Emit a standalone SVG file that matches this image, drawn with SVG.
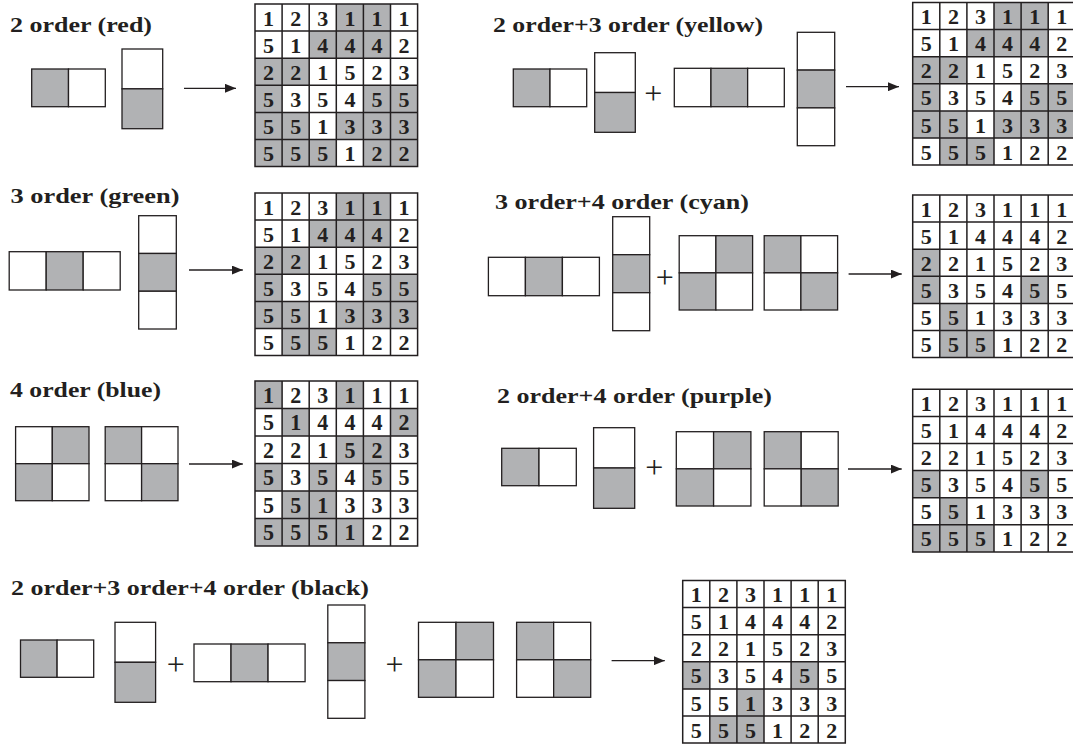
<svg xmlns="http://www.w3.org/2000/svg" xmlns:xlink="http://www.w3.org/1999/xlink" width="1073" height="745" viewBox="0 0 1073 745">
<style>
.lbl{font-family:"Liberation Serif","DejaVu Serif",serif;font-weight:700;font-size:22px;fill:#231f20}
.n{font-family:"Liberation Serif","DejaVu Serif",serif;font-weight:700;font-size:22px;fill:#231f20;text-anchor:middle}
.plus{font-family:"Liberation Serif","DejaVu Serif",serif;font-weight:400;font-size:32px;fill:#231f20;text-anchor:middle}
.g{fill:#b1b2b4;stroke:#231f20;stroke-width:1.3}
.w{fill:#fff;stroke:#231f20;stroke-width:1.3}
.gc{fill:#b1b2b4}
.arr{stroke:#231f20;stroke-width:1.3;fill:none;marker-end:url(#ah)}
</style>
<defs>
<marker id="ah" markerUnits="userSpaceOnUse" markerWidth="11" markerHeight="9" refX="11" refY="4.5" orient="auto"><path d="M0,0 L11,4.5 L0,9 Z" fill="#231f20"/></marker>
<path id="gl" d="M0 0H162.6V162.6H0Z M27.1 0V162.6 M54.2 0V162.6 M81.3 0V162.6 M108.4 0V162.6 M135.5 0V162.6 M0 27.1H162.6 M0 54.2H162.6 M0 81.3H162.6 M0 108.4H162.6 M0 135.5H162.6" fill="none" stroke="#231f20" stroke-width="1.5"/>
</defs>
<rect width="1073" height="745" fill="#fff"/>

<!-- labels -->
<g id="labels">
<text id="lbl-red" class="lbl" x="10" y="32" textLength="142" lengthAdjust="spacingAndGlyphs">2 order (red)</text>
<text id="lbl-yellow" class="lbl" x="493" y="32.3" textLength="270" lengthAdjust="spacingAndGlyphs">2 order+3 order (yellow)</text>
<text id="lbl-green" class="lbl" x="10.5" y="203" textLength="169" lengthAdjust="spacingAndGlyphs">3 order (green)</text>
<text id="lbl-cyan" class="lbl" x="495" y="209" textLength="254" lengthAdjust="spacingAndGlyphs">3 order+4 order (cyan)</text>
<text id="lbl-blue" class="lbl" x="10" y="397" textLength="151" lengthAdjust="spacingAndGlyphs">4 order (blue)</text>
<text id="lbl-purple" class="lbl" x="497" y="403" textLength="275" lengthAdjust="spacingAndGlyphs">2 order+4 order (purple)</text>
<text id="lbl-black" class="lbl" x="11" y="595" textLength="358" lengthAdjust="spacingAndGlyphs">2 order+3 order+4 order (black)</text>
</g>

<!-- red row shapes -->
<g id="red-h2"><rect class="g" x="31.7" y="69" width="36.8" height="37.7"/><rect class="w" x="68.5" y="69" width="36.8" height="37.7"/></g>
<g id="red-v2"><rect class="w" x="122" y="49" width="40.7" height="39.85"/><rect class="g" x="122" y="88.85" width="40.7" height="39.85"/></g>

<!-- yellow row shapes -->
<g id="yellow-h2"><rect class="g" x="513.3" y="69" width="36.7" height="37.7"/><rect class="w" x="550" y="69" width="36.7" height="37.7"/></g>
<g id="yellow-v2"><rect class="w" x="594.7" y="52.7" width="40.6" height="39.8"/><rect class="g" x="594.7" y="92.5" width="40.6" height="39.8"/></g>
<text id="yellow-plus" class="plus" x="653.3" y="104.2">+</text>
<g id="yellow-h3"><rect class="w" x="674.3" y="68.3" width="36.67" height="38.4"/><rect class="g" x="710.97" y="68.3" width="36.67" height="38.4"/><rect class="w" x="747.64" y="68.3" width="36.67" height="38.4"/></g>
<g id="yellow-v3"><rect class="w" x="797.3" y="32.3" width="37.4" height="37.8"/><rect class="g" x="797.3" y="70.1" width="37.4" height="37.8"/><rect class="w" x="797.3" y="107.9" width="37.4" height="37.8"/></g>

<!-- green row shapes -->
<g id="green-h3"><rect class="w" x="9.2" y="251.7" width="37" height="38.3"/><rect class="g" x="46.2" y="251.7" width="37" height="38.3"/><rect class="w" x="83.2" y="251.7" width="37" height="38.3"/></g>
<g id="green-v3"><rect class="w" x="138.7" y="215.7" width="37.6" height="37.77"/><rect class="g" x="138.7" y="253.47" width="37.6" height="37.77"/><rect class="w" x="138.7" y="291.24" width="37.6" height="37.77"/></g>

<!-- cyan row shapes -->
<g id="cyan-h3"><rect class="w" x="488.4" y="257.3" width="37" height="38.4"/><rect class="g" x="525.4" y="257.3" width="37" height="38.4"/><rect class="w" x="562.4" y="257.3" width="37" height="38.4"/></g>
<g id="cyan-v3"><rect class="w" x="612.7" y="216.7" width="37" height="38"/><rect class="g" x="612.7" y="254.7" width="37" height="38"/><rect class="w" x="612.7" y="292.7" width="37" height="38"/></g>
<text id="cyan-plus" class="plus" x="664.7" y="287.6">+</text>
<g id="cyan-sq-a"><rect class="w" x="679.2" y="235.7" width="36.7" height="37.15"/><rect class="g" x="715.9" y="235.7" width="36.7" height="37.15"/><rect class="g" x="679.2" y="272.85" width="36.7" height="37.15"/><rect class="w" x="715.9" y="272.85" width="36.7" height="37.15"/></g>
<g id="cyan-sq-b"><rect class="g" x="764.2" y="235.7" width="36.7" height="37.15"/><rect class="w" x="800.9" y="235.7" width="36.7" height="37.15"/><rect class="w" x="764.2" y="272.85" width="36.7" height="37.15"/><rect class="g" x="800.9" y="272.85" width="36.7" height="37.15"/></g>

<!-- blue row shapes -->
<g id="blue-sq-a"><rect class="w" x="15.6" y="426.7" width="36.7" height="37"/><rect class="g" x="52.3" y="426.7" width="36.7" height="37"/><rect class="g" x="15.6" y="463.7" width="36.7" height="37"/><rect class="w" x="52.3" y="463.7" width="36.7" height="37"/></g>
<g id="blue-sq-b"><rect class="g" x="105.2" y="426.7" width="36.4" height="37"/><rect class="w" x="141.6" y="426.7" width="36.4" height="37"/><rect class="w" x="105.2" y="463.7" width="36.4" height="37"/><rect class="g" x="141.6" y="463.7" width="36.4" height="37"/></g>

<!-- purple row shapes -->
<g id="purple-h2"><rect class="g" x="501.7" y="448.3" width="37.3" height="37.4"/><rect class="w" x="539" y="448.3" width="37.3" height="37.4"/></g>
<g id="purple-v2"><rect class="w" x="593.6" y="427.7" width="41.1" height="40.3"/><rect class="g" x="593.6" y="468" width="41.1" height="40.3"/></g>
<text id="purple-plus" class="plus" x="654.3" y="478.2">+</text>
<g id="purple-sq-a"><rect class="w" x="676.3" y="431.7" width="37.3" height="37.15"/><rect class="g" x="713.6" y="431.7" width="37.3" height="37.15"/><rect class="g" x="676.3" y="468.85" width="37.3" height="37.15"/><rect class="w" x="713.6" y="468.85" width="37.3" height="37.15"/></g>
<g id="purple-sq-b"><rect class="g" x="764.2" y="431.7" width="37" height="37.15"/><rect class="w" x="801.2" y="431.7" width="37" height="37.15"/><rect class="w" x="764.2" y="468.85" width="37" height="37.15"/><rect class="g" x="801.2" y="468.85" width="37" height="37.15"/></g>

<!-- black row shapes -->
<g id="black-h2"><rect class="g" x="20.5" y="640" width="36.6" height="37.3"/><rect class="w" x="57.1" y="640" width="36.6" height="37.3"/></g>
<g id="black-v2"><rect class="w" x="115" y="622.3" width="40.6" height="40"/><rect class="g" x="115" y="662.3" width="40.6" height="40"/></g>
<text id="black-plus1" class="plus" x="175.7" y="675.2">+</text>
<g id="black-h3"><rect class="w" x="194" y="644" width="37.03" height="37.7"/><rect class="g" x="231.03" y="644" width="37.03" height="37.7"/><rect class="w" x="268.06" y="644" width="37.03" height="37.7"/></g>
<g id="black-v3"><rect class="w" x="327.8" y="605" width="37.1" height="37.77"/><rect class="g" x="327.8" y="642.77" width="37.1" height="37.77"/><rect class="w" x="327.8" y="680.54" width="37.1" height="37.77"/></g>
<text id="black-plus2" class="plus" x="394.5" y="675.2">+</text>
<g id="black-sq-a"><rect class="w" x="418.5" y="622.3" width="37.5" height="37.5"/><rect class="g" x="456" y="622.3" width="37.5" height="37.5"/><rect class="g" x="418.5" y="659.8" width="37.5" height="37.5"/><rect class="w" x="456" y="659.8" width="37.5" height="37.5"/></g>
<g id="black-sq-b"><rect class="g" x="516.6" y="622.3" width="37.05" height="37.5"/><rect class="w" x="553.65" y="622.3" width="37.05" height="37.5"/><rect class="w" x="516.6" y="659.8" width="37.05" height="37.5"/><rect class="g" x="553.65" y="659.8" width="37.05" height="37.5"/></g>

<!-- grids -->
<g id="grid-red" transform="translate(255,4)">
<rect class="gc" x="81.3" y="0" width="54.2" height="27.1"/><rect class="gc" x="54.2" y="27.1" width="81.3" height="27.1"/><rect class="gc" x="0" y="54.2" width="54.2" height="27.1"/><rect class="gc" x="0" y="81.3" width="27.1" height="27.1"/><rect class="gc" x="108.4" y="81.3" width="54.2" height="27.1"/><rect class="gc" x="0" y="108.4" width="54.2" height="27.1"/><rect class="gc" x="81.3" y="108.4" width="81.3" height="27.1"/><rect class="gc" x="0" y="135.5" width="81.3" height="27.1"/><rect class="gc" x="108.4" y="135.5" width="54.2" height="27.1"/>
<use href="#gl" xlink:href="#gl"/>
<g class="n">
<text x="13.6" y="21.6">1</text><text x="40.7" y="21.6">2</text><text x="67.8" y="21.6">3</text><text x="94.9" y="21.6">1</text><text x="122" y="21.6">1</text><text x="149.1" y="21.6">1</text>
<text x="13.6" y="48.7">5</text><text x="40.7" y="48.7">1</text><text x="67.8" y="48.7">4</text><text x="94.9" y="48.7">4</text><text x="122" y="48.7">4</text><text x="149.1" y="48.7">2</text>
<text x="13.6" y="75.8">2</text><text x="40.7" y="75.8">2</text><text x="67.8" y="75.8">1</text><text x="94.9" y="75.8">5</text><text x="122" y="75.8">2</text><text x="149.1" y="75.8">3</text>
<text x="13.6" y="102.9">5</text><text x="40.7" y="102.9">3</text><text x="67.8" y="102.9">5</text><text x="94.9" y="102.9">4</text><text x="122" y="102.9">5</text><text x="149.1" y="102.9">5</text>
<text x="13.6" y="130">5</text><text x="40.7" y="130">5</text><text x="67.8" y="130">1</text><text x="94.9" y="130">3</text><text x="122" y="130">3</text><text x="149.1" y="130">3</text>
<text x="13.6" y="157.1">5</text><text x="40.7" y="157.1">5</text><text x="67.8" y="157.1">5</text><text x="94.9" y="157.1">1</text><text x="122" y="157.1">2</text><text x="149.1" y="157.1">2</text>
</g>
</g>

<g id="grid-yellow" transform="translate(912.7,2.5)">
<rect class="gc" x="81.3" y="0" width="54.2" height="27.1"/><rect class="gc" x="54.2" y="27.1" width="81.3" height="27.1"/><rect class="gc" x="0" y="54.2" width="54.2" height="27.1"/><rect class="gc" x="0" y="81.3" width="27.1" height="27.1"/><rect class="gc" x="108.4" y="81.3" width="54.2" height="27.1"/><rect class="gc" x="0" y="108.4" width="54.2" height="27.1"/><rect class="gc" x="81.3" y="108.4" width="81.3" height="27.1"/><rect class="gc" x="27.1" y="135.5" width="54.2" height="27.1"/>
<use href="#gl" xlink:href="#gl"/>
<g class="n">
<text x="13.6" y="21.6">1</text><text x="40.7" y="21.6">2</text><text x="67.8" y="21.6">3</text><text x="94.9" y="21.6">1</text><text x="122" y="21.6">1</text><text x="149.1" y="21.6">1</text>
<text x="13.6" y="48.7">5</text><text x="40.7" y="48.7">1</text><text x="67.8" y="48.7">4</text><text x="94.9" y="48.7">4</text><text x="122" y="48.7">4</text><text x="149.1" y="48.7">2</text>
<text x="13.6" y="75.8">2</text><text x="40.7" y="75.8">2</text><text x="67.8" y="75.8">1</text><text x="94.9" y="75.8">5</text><text x="122" y="75.8">2</text><text x="149.1" y="75.8">3</text>
<text x="13.6" y="102.9">5</text><text x="40.7" y="102.9">3</text><text x="67.8" y="102.9">5</text><text x="94.9" y="102.9">4</text><text x="122" y="102.9">5</text><text x="149.1" y="102.9">5</text>
<text x="13.6" y="130">5</text><text x="40.7" y="130">5</text><text x="67.8" y="130">1</text><text x="94.9" y="130">3</text><text x="122" y="130">3</text><text x="149.1" y="130">3</text>
<text x="13.6" y="157.1">5</text><text x="40.7" y="157.1">5</text><text x="67.8" y="157.1">5</text><text x="94.9" y="157.1">1</text><text x="122" y="157.1">2</text><text x="149.1" y="157.1">2</text>
</g>
</g>

<g id="grid-green" transform="translate(255,193)">
<rect class="gc" x="81.3" y="0" width="54.2" height="27.1"/><rect class="gc" x="54.2" y="27.1" width="81.3" height="27.1"/><rect class="gc" x="0" y="54.2" width="54.2" height="27.1"/><rect class="gc" x="0" y="81.3" width="27.1" height="27.1"/><rect class="gc" x="108.4" y="81.3" width="54.2" height="27.1"/><rect class="gc" x="0" y="108.4" width="54.2" height="27.1"/><rect class="gc" x="81.3" y="108.4" width="81.3" height="27.1"/><rect class="gc" x="27.1" y="135.5" width="54.2" height="27.1"/>
<use href="#gl" xlink:href="#gl"/>
<g class="n">
<text x="13.6" y="21.6">1</text><text x="40.7" y="21.6">2</text><text x="67.8" y="21.6">3</text><text x="94.9" y="21.6">1</text><text x="122" y="21.6">1</text><text x="149.1" y="21.6">1</text>
<text x="13.6" y="48.7">5</text><text x="40.7" y="48.7">1</text><text x="67.8" y="48.7">4</text><text x="94.9" y="48.7">4</text><text x="122" y="48.7">4</text><text x="149.1" y="48.7">2</text>
<text x="13.6" y="75.8">2</text><text x="40.7" y="75.8">2</text><text x="67.8" y="75.8">1</text><text x="94.9" y="75.8">5</text><text x="122" y="75.8">2</text><text x="149.1" y="75.8">3</text>
<text x="13.6" y="102.9">5</text><text x="40.7" y="102.9">3</text><text x="67.8" y="102.9">5</text><text x="94.9" y="102.9">4</text><text x="122" y="102.9">5</text><text x="149.1" y="102.9">5</text>
<text x="13.6" y="130">5</text><text x="40.7" y="130">5</text><text x="67.8" y="130">1</text><text x="94.9" y="130">3</text><text x="122" y="130">3</text><text x="149.1" y="130">3</text>
<text x="13.6" y="157.1">5</text><text x="40.7" y="157.1">5</text><text x="67.8" y="157.1">5</text><text x="94.9" y="157.1">1</text><text x="122" y="157.1">2</text><text x="149.1" y="157.1">2</text>
</g>
</g>

<g id="grid-cyan" transform="translate(912.7,195)">
<rect class="gc" x="0" y="54.2" width="27.1" height="27.1"/><rect class="gc" x="0" y="81.3" width="27.1" height="27.1"/><rect class="gc" x="108.4" y="81.3" width="27.1" height="27.1"/><rect class="gc" x="27.1" y="108.4" width="27.1" height="27.1"/><rect class="gc" x="27.1" y="135.5" width="54.2" height="27.1"/>
<use href="#gl" xlink:href="#gl"/>
<g class="n">
<text x="13.6" y="21.6">1</text><text x="40.7" y="21.6">2</text><text x="67.8" y="21.6">3</text><text x="94.9" y="21.6">1</text><text x="122" y="21.6">1</text><text x="149.1" y="21.6">1</text>
<text x="13.6" y="48.7">5</text><text x="40.7" y="48.7">1</text><text x="67.8" y="48.7">4</text><text x="94.9" y="48.7">4</text><text x="122" y="48.7">4</text><text x="149.1" y="48.7">2</text>
<text x="13.6" y="75.8">2</text><text x="40.7" y="75.8">2</text><text x="67.8" y="75.8">1</text><text x="94.9" y="75.8">5</text><text x="122" y="75.8">2</text><text x="149.1" y="75.8">3</text>
<text x="13.6" y="102.9">5</text><text x="40.7" y="102.9">3</text><text x="67.8" y="102.9">5</text><text x="94.9" y="102.9">4</text><text x="122" y="102.9">5</text><text x="149.1" y="102.9">5</text>
<text x="13.6" y="130">5</text><text x="40.7" y="130">5</text><text x="67.8" y="130">1</text><text x="94.9" y="130">3</text><text x="122" y="130">3</text><text x="149.1" y="130">3</text>
<text x="13.6" y="157.1">5</text><text x="40.7" y="157.1">5</text><text x="67.8" y="157.1">5</text><text x="94.9" y="157.1">1</text><text x="122" y="157.1">2</text><text x="149.1" y="157.1">2</text>
</g>
</g>

<g id="grid-blue" transform="translate(255,381) scale(1,1.015)">
<rect class="gc" x="0" y="0" width="27.1" height="27.1"/><rect class="gc" x="81.3" y="0" width="27.1" height="27.1"/><rect class="gc" x="27.1" y="27.1" width="27.1" height="27.1"/><rect class="gc" x="135.5" y="27.1" width="27.1" height="27.1"/><rect class="gc" x="81.3" y="54.2" width="54.2" height="27.1"/><rect class="gc" x="0" y="81.3" width="27.1" height="27.1"/><rect class="gc" x="54.2" y="81.3" width="27.1" height="27.1"/><rect class="gc" x="108.4" y="81.3" width="27.1" height="27.1"/><rect class="gc" x="27.1" y="108.4" width="54.2" height="27.1"/><rect class="gc" x="0" y="135.5" width="108.4" height="27.1"/>
<use href="#gl" xlink:href="#gl"/>
<g class="n">
<text x="13.6" y="21.6">1</text><text x="40.7" y="21.6">2</text><text x="67.8" y="21.6">3</text><text x="94.9" y="21.6">1</text><text x="122" y="21.6">1</text><text x="149.1" y="21.6">1</text>
<text x="13.6" y="48.7">5</text><text x="40.7" y="48.7">1</text><text x="67.8" y="48.7">4</text><text x="94.9" y="48.7">4</text><text x="122" y="48.7">4</text><text x="149.1" y="48.7">2</text>
<text x="13.6" y="75.8">2</text><text x="40.7" y="75.8">2</text><text x="67.8" y="75.8">1</text><text x="94.9" y="75.8">5</text><text x="122" y="75.8">2</text><text x="149.1" y="75.8">3</text>
<text x="13.6" y="102.9">5</text><text x="40.7" y="102.9">3</text><text x="67.8" y="102.9">5</text><text x="94.9" y="102.9">4</text><text x="122" y="102.9">5</text><text x="149.1" y="102.9">5</text>
<text x="13.6" y="130">5</text><text x="40.7" y="130">5</text><text x="67.8" y="130">1</text><text x="94.9" y="130">3</text><text x="122" y="130">3</text><text x="149.1" y="130">3</text>
<text x="13.6" y="157.1">5</text><text x="40.7" y="157.1">5</text><text x="67.8" y="157.1">5</text><text x="94.9" y="157.1">1</text><text x="122" y="157.1">2</text><text x="149.1" y="157.1">2</text>
</g>
</g>

<g id="grid-purple" transform="translate(912.7,389.3)">
<rect class="gc" x="0" y="81.3" width="27.1" height="27.1"/><rect class="gc" x="108.4" y="81.3" width="27.1" height="27.1"/><rect class="gc" x="27.1" y="108.4" width="27.1" height="27.1"/><rect class="gc" x="0" y="135.5" width="81.3" height="27.1"/>
<use href="#gl" xlink:href="#gl"/>
<g class="n">
<text x="13.6" y="21.6">1</text><text x="40.7" y="21.6">2</text><text x="67.8" y="21.6">3</text><text x="94.9" y="21.6">1</text><text x="122" y="21.6">1</text><text x="149.1" y="21.6">1</text>
<text x="13.6" y="48.7">5</text><text x="40.7" y="48.7">1</text><text x="67.8" y="48.7">4</text><text x="94.9" y="48.7">4</text><text x="122" y="48.7">4</text><text x="149.1" y="48.7">2</text>
<text x="13.6" y="75.8">2</text><text x="40.7" y="75.8">2</text><text x="67.8" y="75.8">1</text><text x="94.9" y="75.8">5</text><text x="122" y="75.8">2</text><text x="149.1" y="75.8">3</text>
<text x="13.6" y="102.9">5</text><text x="40.7" y="102.9">3</text><text x="67.8" y="102.9">5</text><text x="94.9" y="102.9">4</text><text x="122" y="102.9">5</text><text x="149.1" y="102.9">5</text>
<text x="13.6" y="130">5</text><text x="40.7" y="130">5</text><text x="67.8" y="130">1</text><text x="94.9" y="130">3</text><text x="122" y="130">3</text><text x="149.1" y="130">3</text>
<text x="13.6" y="157.1">5</text><text x="40.7" y="157.1">5</text><text x="67.8" y="157.1">5</text><text x="94.9" y="157.1">1</text><text x="122" y="157.1">2</text><text x="149.1" y="157.1">2</text>
</g>
</g>

<g id="grid-black" transform="translate(682.7,580.5)">
<rect class="gc" x="0" y="81.3" width="27.1" height="27.1"/><rect class="gc" x="108.4" y="81.3" width="27.1" height="27.1"/><rect class="gc" x="54.2" y="108.4" width="27.1" height="27.1"/><rect class="gc" x="27.1" y="135.5" width="54.2" height="27.1"/>
<use href="#gl" xlink:href="#gl"/>
<g class="n">
<text x="13.6" y="21.6">1</text><text x="40.7" y="21.6">2</text><text x="67.8" y="21.6">3</text><text x="94.9" y="21.6">1</text><text x="122" y="21.6">1</text><text x="149.1" y="21.6">1</text>
<text x="13.6" y="48.7">5</text><text x="40.7" y="48.7">1</text><text x="67.8" y="48.7">4</text><text x="94.9" y="48.7">4</text><text x="122" y="48.7">4</text><text x="149.1" y="48.7">2</text>
<text x="13.6" y="75.8">2</text><text x="40.7" y="75.8">2</text><text x="67.8" y="75.8">1</text><text x="94.9" y="75.8">5</text><text x="122" y="75.8">2</text><text x="149.1" y="75.8">3</text>
<text x="13.6" y="102.9">5</text><text x="40.7" y="102.9">3</text><text x="67.8" y="102.9">5</text><text x="94.9" y="102.9">4</text><text x="122" y="102.9">5</text><text x="149.1" y="102.9">5</text>
<text x="13.6" y="130">5</text><text x="40.7" y="130">5</text><text x="67.8" y="130">1</text><text x="94.9" y="130">3</text><text x="122" y="130">3</text><text x="149.1" y="130">3</text>
<text x="13.6" y="157.1">5</text><text x="40.7" y="157.1">5</text><text x="67.8" y="157.1">5</text><text x="94.9" y="157.1">1</text><text x="122" y="157.1">2</text><text x="149.1" y="157.1">2</text>
</g>
</g>

<!-- connectors -->
<g id="connectors">
<line class="arr" x1="184" y1="88.3" x2="236" y2="88.3"/>
<line class="arr" x1="846" y1="86.7" x2="899" y2="86.7"/>
<line class="arr" x1="189" y1="270" x2="242.8" y2="270"/>
<line class="arr" x1="848.6" y1="274" x2="901.7" y2="274"/>
<line class="arr" x1="189" y1="464" x2="242.8" y2="464"/>
<line class="arr" x1="848" y1="469" x2="901.7" y2="469"/>
<line class="arr" x1="611.6" y1="660.7" x2="664.8" y2="660.7"/>
</g>
</svg>
